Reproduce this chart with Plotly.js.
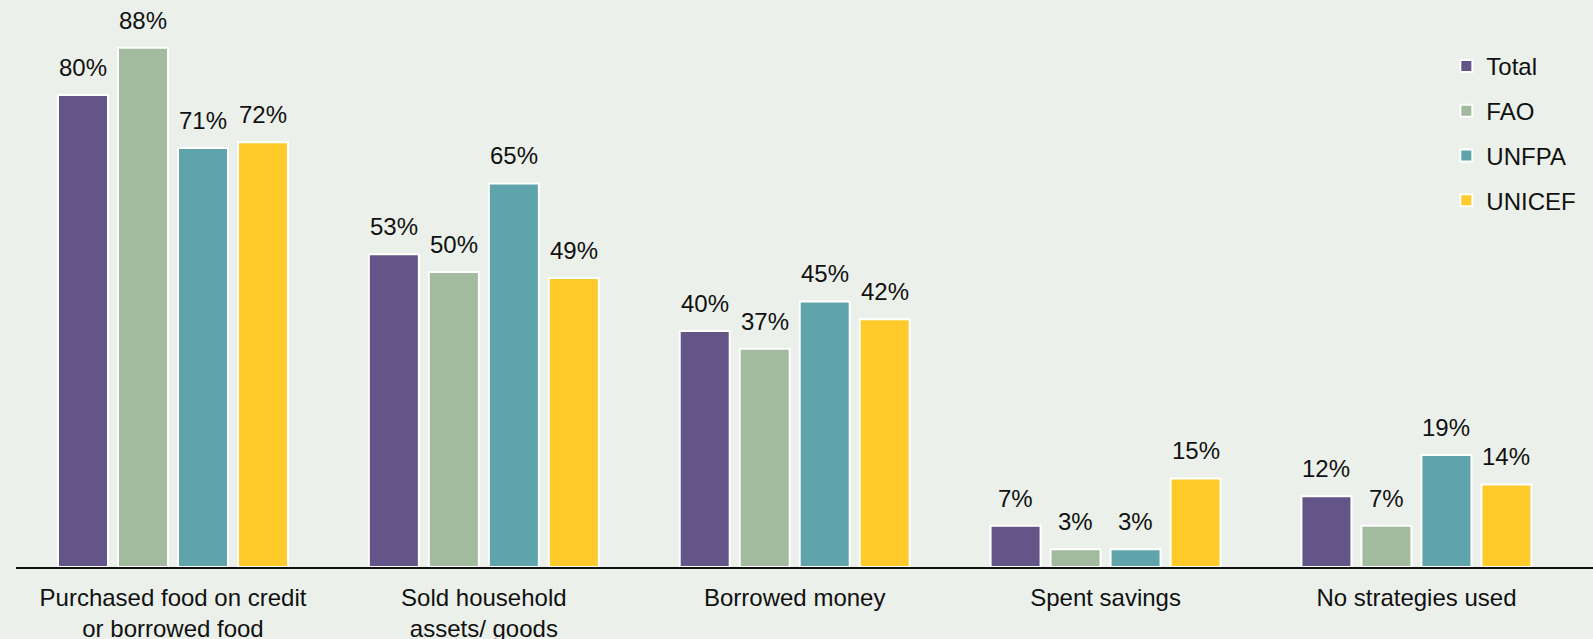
<!DOCTYPE html>
<html>
<head>
<meta charset="utf-8">
<script src="https://cdn.plot.ly/plotly-3.0.1.min.js"></script>
<style>html,body{margin:0;padding:0;background:#EBF0EA;}</style>
</head>
<body>
<div id="chart" style="width:1593px;height:639px;"></div>
<script>
const categories = ["Purchased food on credit<br>or borrowed food", "Sold household<br>assets/ goods", "Borrowed money", "Spent savings", "No strategies used"];
const seriesNames = ["Total", "FAO", "UNFPA", "UNICEF"];
const totalValues = [80, 53, 40, 7, 12];
const faoValues = [88, 50, 37, 3, 7];
const unfpaValues = [71, 65, 45, 3, 19];
const unicefValues = [72, 49, 42, 15, 14];
const seriesColors = ["#635587", "#A2BA9E", "#5EA4AA", "#FFCB2A"];

const allValues = [totalValues, faoValues, unfpaValues, unicefValues];
const FONT = "Liberation Sans, Arial, sans-serif";
const FS = 24;
const bargap = 0.228;
const nSeries = allValues.length;
const slot = (1 - bargap) / nSeries;

const traces = allValues.map((vals, i) => ({
  type: "bar",
  name: seriesNames[i],
  x: categories,
  y: vals,
  legendgroup: "g" + i,
  marker: { color: seriesColors[i], line: { color: "#FFFFFF", width: 2 } },
  hoverinfo: "skip"
}));

const annotations = [];
allValues.forEach((vals, i) => {
  vals.forEach((v, j) => {
    annotations.push({
      x: j + (i - (nSeries - 1) / 2) * slot,
      y: v,
      xref: "x", yref: "y",
      text: v + "%",
      showarrow: false,
      yanchor: "bottom",
      yshift: 12,
      font: { family: FONT, size: FS, color: "#111111" }
    });
  });
});

const layout = {
  width: 1593, height: 639,
  paper_bgcolor: "#EBF0EA",
  plot_bgcolor: "#EBF0EA",
  margin: { l: 16, r: 0, t: 10, b: 72, pad: 0 },
  barmode: "group",
  bargap: bargap,
  bargroupgap: 0.1667,
  font: { family: FONT, size: FS, color: "#111111" },
  xaxis: {
    type: "category",
    range: [-0.505, 4.568],
    showline: true, linecolor: "#111111", linewidth: 2,
    ticks: "", showgrid: false, zeroline: false,
    ticklabelstandoff: 8,
    tickfont: { family: FONT, size: FS, color: "#111111" },
    fixedrange: true
  },
  yaxis: {
    range: [0, 94.4],
    visible: false, showgrid: false, zeroline: false,
    fixedrange: true
  },
  legend: {
    x: 0.907, xanchor: "left",
    y: 0.939, yanchor: "top",
    bgcolor: "rgba(0,0,0,0)",
    font: { family: FONT, size: FS, color: "#111111" },
    tracegroupgap: 10.5
  },
  annotations: annotations,
  showlegend: true
};

Plotly.newPlot("chart", traces, layout, { displayModeBar: false, staticPlot: true });
</script>
</body>
</html>
